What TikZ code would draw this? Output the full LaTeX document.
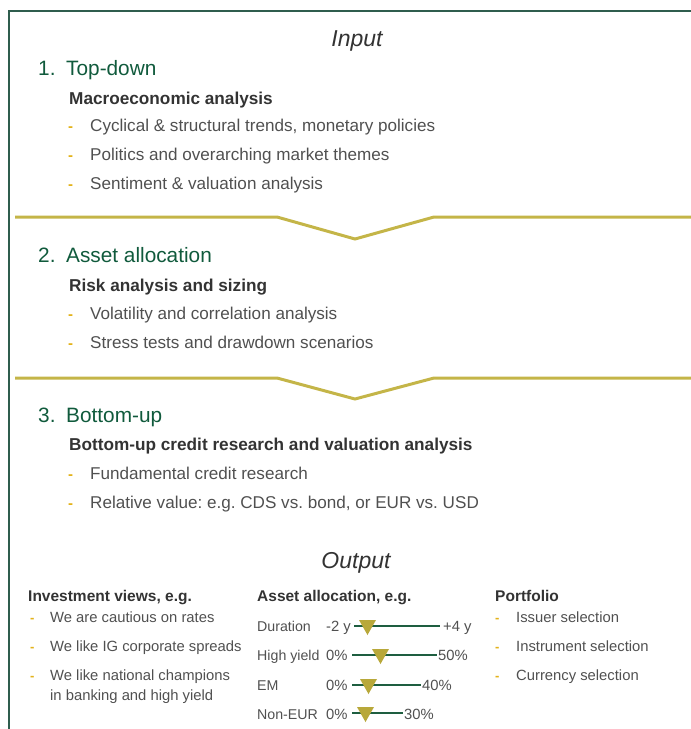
\documentclass[tikz,border=0pt]{standalone}
\usepackage{fontspec}
\setmainfont{Liberation Sans}
\frenchspacing
\definecolor{hgreen}{HTML}{105A3C}
\definecolor{framec}{HTML}{2F5D4E}
\definecolor{chevc}{HTML}{C4B548}
\definecolor{dashc}{HTML}{E3B21A}
\definecolor{darkt}{HTML}{333333}
\definecolor{bodyt}{HTML}{505050}
\definecolor{tric}{HTML}{B8A83A}
\definecolor{scalec}{HTML}{1E5E40}
\tikzset{
  heading/.style={anchor=base west, inner sep=0, text=hgreen, font=\fontsize{20.8}{23}\selectfont},
  subhead/.style={anchor=base west, inner sep=0, text=darkt, font=\bfseries\fontsize{17.2}{19}\selectfont},
  item/.style={anchor=base west, inner sep=0, text=bodyt, font=\fontsize{17.1}{19}\selectfont},
  bul/.style={anchor=base west, inner sep=0, text=dashc, font=\bfseries\fontsize{15}{18}\selectfont},
  ttl/.style={anchor=base, inner sep=0, text=darkt, font=\itshape\fontsize{23}{26}\selectfont},
  colhead/.style={anchor=base west, inner sep=0, text=darkt, font=\bfseries\fontsize{15.5}{18}\selectfont},
  colitem/.style={anchor=base west, inner sep=0, text=bodyt, font=\fontsize{14.8}{17}\selectfont},
  rowlab/.style={anchor=base west, inner sep=0, text=bodyt, font=\fontsize{14.2}{17}\selectfont},
  colbul/.style={anchor=base west, inner sep=0, text=dashc, font=\bfseries\fontsize{13}{16}\selectfont},
  chev/.style={draw=chevc, line width=3pt},
  framel/.style={draw=framec, line width=1.6pt},
  scaleline/.style={draw=scalec, line width=2.4pt},
  tri/.style={fill=tric},
}
\begin{document}
\begin{tikzpicture}[x=1pt,y=-1pt]
\useasboundingbox (0,0) rectangle (691,729);
% frame
\draw[framel] (9,729) -- (9,11) -- (691,11);
% chevrons
\draw[chev] (15,217) -- (277,217) -- (355,239) -- (434,217) -- (691,217);
\draw[chev] (15,378) -- (277,378) -- (355,399) -- (434,378) -- (691,378);
% Input
\node[ttl] (input) at (357,46) {Input};
% section 1
\node[heading] (n1) at (38,75) {1.};
\node[heading] (h1) at (66,75) {Top-down};
\node[subhead] (s1) at (69,104) {Macroeconomic analysis};
\node[bul] (b11) at (68,131) {-};
\node[item] (i11) at (90,131) {Cyclical \& structural trends, monetary policies};
\node[bul] (b12) at (68,160) {-};
\node[item] (i12) at (90,160) {Politics and overarching market themes};
\node[bul] (b13) at (68,189) {-};
\node[item] (i13) at (90,189) {Sentiment \& valuation analysis};
% section 2
\node[heading] (n2) at (38,262) {2.};
\node[heading] (h2) at (66,262) {Asset allocation};
\node[subhead] (s2) at (69,291) {Risk analysis and sizing};
\node[bul] (b21) at (68,319) {-};
\node[item] (i21) at (90,319) {Volatility and correlation analysis};
\node[bul] (b22) at (68,348) {-};
\node[item] (i22) at (90,348) {Stress tests and drawdown scenarios};
% section 3
\node[heading] (n3) at (38,422) {3.};
\node[heading] (h3) at (66,422) {Bottom-up};
\node[subhead] (s3) at (69,450) {Bottom-up credit research and valuation analysis};
\node[bul] (b31) at (68,479) {-};
\node[item] (i31) at (90,479) {Fundamental credit research};
\node[bul] (b32) at (68,508) {-};
\node[item] (i32) at (90,508) {Relative value: e.g. CDS vs. bond, or EUR vs. USD};
% Output
\node[ttl] (output) at (356,568) {Output};
% column 1
\node[colhead] (c1) at (28,601) {Investment views, e.g.};
\node[colbul] (c1b1) at (30,622) {-};
\node[colitem] (c1i1) at (50,622) {We are cautious on rates};
\node[colbul] (c1b2) at (30,651) {-};
\node[colitem] (c1i2) at (50,651) {We like IG corporate spreads};
\node[colbul] (c1b3) at (30,680) {-};
\node[colitem] (c1i3) at (50,680) {We like national champions};
\node[colitem] (c1i3b) at (50,700) {in banking and high yield};
% column 2
\node[colhead] (c2) at (257,601) {Asset allocation, e.g.};
\node[rowlab] (r1) at (257,631) {Duration};
\node[colitem] (r1a) at (326,631) {-2 y};
\node[colitem] (r1b) at (443,631) {+4 y};
\node[rowlab] (r2) at (257,660) {High yield};
\node[colitem] (r2a) at (326,660) {0\%};
\node[colitem] (r2b) at (438,660) {50\%};
\node[rowlab] (r3) at (257,690) {EM};
\node[colitem] (r3a) at (326,690) {0\%};
\node[colitem] (r3b) at (422,690) {40\%};
\node[rowlab] (r4) at (257,719) {Non-EUR};
\node[colitem] (r4a) at (326,719) {0\%};
\node[colitem] (r4b) at (404,719) {30\%};
\coordinate (l1a) at (354,626); \coordinate (l1b) at (440,626);
\coordinate (l2a) at (352,655); \coordinate (l2b) at (437,655);
\coordinate (l3a) at (352,685); \coordinate (l3b) at (421,685);
\coordinate (l4a) at (352,713); \coordinate (l4b) at (403,713);
\draw[scaleline] (l1a) -- (l1b);
\draw[scaleline] (l2a) -- (l2b);
\draw[scaleline] (l3a) -- (l3b);
\draw[scaleline] (l4a) -- (l4b);
\fill[tri] (359,620) -- (376,620) -- (367.5,635) -- cycle;
\fill[tri] (372,649) -- (389,649) -- (380.5,664) -- cycle;
\fill[tri] (360,679) -- (377,679) -- (368.5,694) -- cycle;
\fill[tri] (357,707) -- (374,707) -- (365.5,722) -- cycle;
% column 3
\node[colhead] (c3) at (495,601) {Portfolio};
\node[colbul] (c3b1) at (495,622) {-};
\node[colitem] (c3i1) at (516,622) {Issuer selection};
\node[colbul] (c3b2) at (495,651) {-};
\node[colitem] (c3i2) at (516,651) {Instrument selection};
\node[colbul] (c3b3) at (495,680) {-};
\node[colitem] (c3i3) at (516,680) {Currency selection};
\end{tikzpicture}
\end{document}
